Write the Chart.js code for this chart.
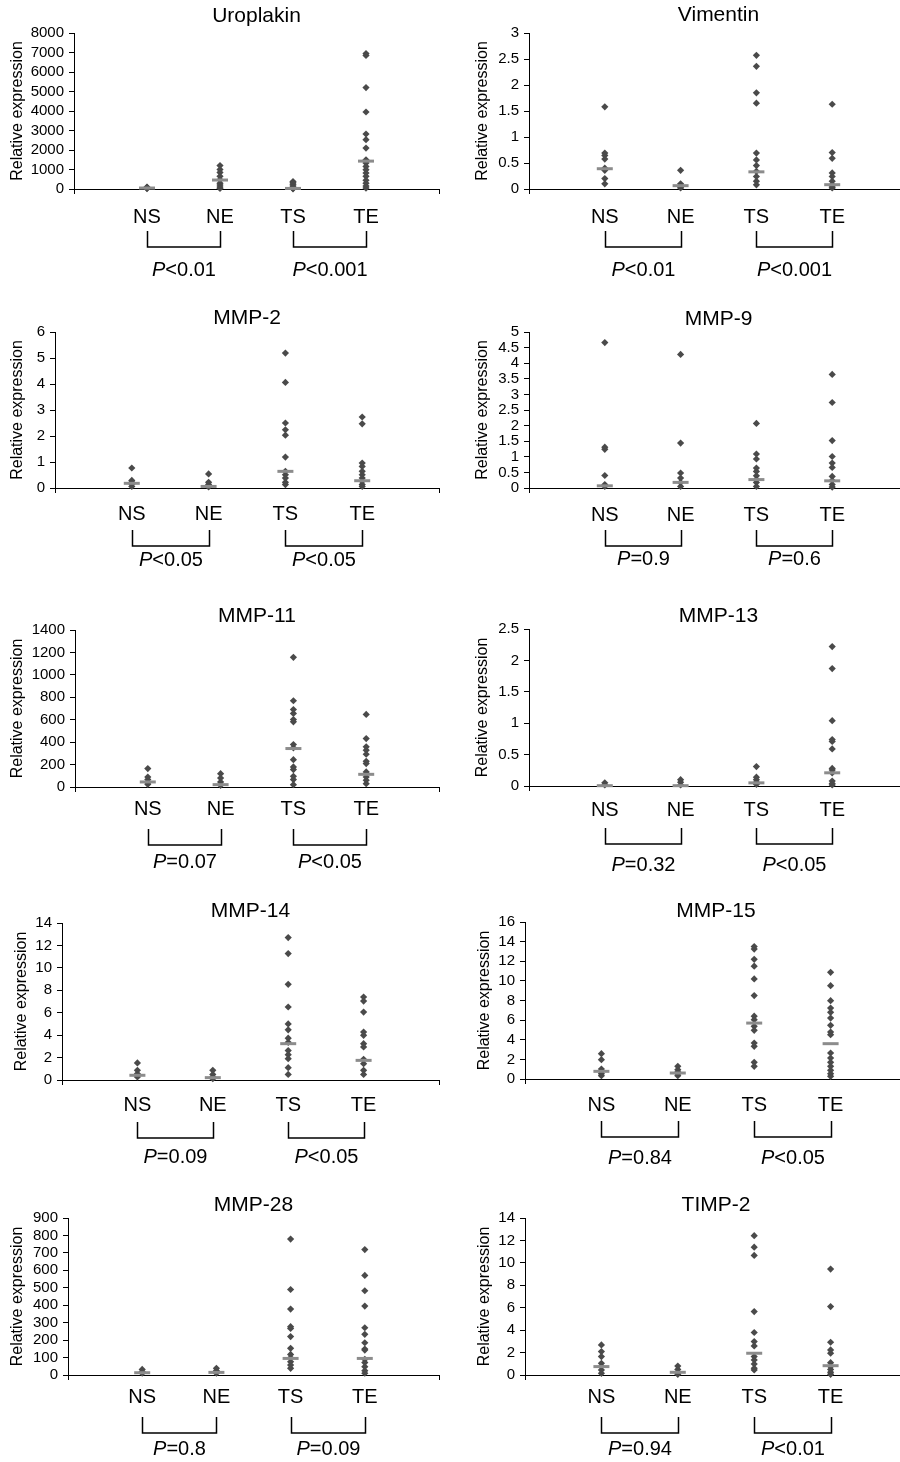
<!DOCTYPE html>
<html><head><meta charset="utf-8">
<script src="https://cdn.jsdelivr.net/npm/chart.js@4.4.0/dist/chart.umd.min.js"></script>
<style>
html,body{margin:0;padding:0;background:#fff;overflow:hidden;width:900px;height:1462px;position:relative;}
canvas{position:absolute;}
</style>
</head><body>
<script>
// ---------- DATA ----------
const categories = ['NS', 'NE', 'TS', 'TE'];
const panelNames = ['Uroplakin', 'Vimentin', 'MMP-2', 'MMP-9', 'MMP-11', 'MMP-13', 'MMP-14', 'MMP-15', 'MMP-28', 'TIMP-2'];
const yMax = [8000, 3, 6, 5, 1400, 2.5, 14, 16, 900, 14];
const yStep = [1000, 0.5, 1, 0.5, 200, 0.5, 2, 2, 100, 2];
const pLabels = [['<0.01', '<0.001'], ['<0.01', '<0.001'], ['<0.05', '<0.05'], ['=0.9', '=0.6'], ['=0.07', '<0.05'],
                 ['=0.32', '<0.05'], ['=0.09', '<0.05'], ['=0.84', '<0.05'], ['=0.8', '=0.09'], ['=0.94', '<0.01']];

// values per group: NS, NE, TS, TE
const uroplakinValues = [
  [100, 80, 60, 40, 20],
  [1200, 1000, 850, 650, 480, 300, 200, 100, 30],
  [380, 320, 250, 150, 80, 30, 10],
  [6950, 6850, 5200, 3950, 2820, 2530, 2100, 1500, 1330, 1160, 990, 820, 650, 450, 300, 150, 50]
];
const uroplakinMedians = [50, 460, 30, 1430];

const vimentinValues = [
  [1.58, 0.69, 0.645, 0.575, 0.4, 0.36, 0.2, 0.1],
  [0.36, 0.1, 0.065, 0.04, 0.02],
  [2.57, 2.36, 1.85, 1.65, 0.69, 0.56, 0.45, 0.34, 0.24, 0.15, 0.08],
  [1.63, 0.7, 0.59, 0.31, 0.24, 0.15, 0.08, 0.04, 0.02]
];
const vimentinMedians = [0.39, 0.064, 0.33, 0.083];

const mmp2Values = [
  [0.77, 0.29, 0.22, 0.15, 0.06],
  [0.54, 0.22, 0.13, 0.04],
  [5.19, 4.06, 2.5, 2.24, 2.03, 1.19, 0.64, 0.51, 0.38, 0.22, 0.13],
  [2.73, 2.47, 0.96, 0.83, 0.64, 0.51, 0.38, 0.26, 0.13, 0.06]
];
const mmp2Medians = [0.18, 0.06, 0.64, 0.28];

const mmp9Values = [
  [4.66, 1.31, 1.24, 0.4, 0.11, 0.05],
  [4.28, 1.44, 0.48, 0.32, 0.18, 0.05],
  [2.07, 1.09, 0.93, 0.64, 0.53, 0.39, 0.27, 0.18, 0.05],
  [3.64, 2.74, 1.52, 1.01, 0.8, 0.66, 0.37, 0.24, 0.11, 0.03]
];
const mmp9Medians = [0.07, 0.18, 0.27, 0.23];

const mmp11Values = [
  [164, 89, 66, 39, 24],
  [119, 80, 45, 15],
  [1156, 769, 691, 656, 602, 581, 379, 349, 244, 179, 155, 95, 66, 21],
  [647, 432, 358, 328, 292, 229, 209, 134, 89, 60, 30]
];
const mmp11Medians = [45, 21, 343, 113];

const mmp13Values = [
  [0.05, 0.016],
  [0.1, 0.06, 0.016],
  [0.31, 0.14, 0.1, 0.06, 0.027],
  [2.22, 1.87, 1.04, 0.74, 0.71, 0.59, 0.28, 0.255, 0.21, 0.08, 0.04, 0.016]
];
const mmp13Medians = [0.005, 0.005, 0.05, 0.21];

const mmp14Values = [
  [1.52, 0.86, 0.56, 0.42, 0.27],
  [0.86, 0.5, 0.27, 0.12],
  [12.7, 11.27, 8.53, 6.51, 5.0, 4.47, 3.73, 3.36, 2.62, 2.26, 1.9, 1.1, 0.5],
  [7.4, 7.04, 6.06, 4.28, 3.98, 3.24, 2.95, 1.84, 1.46, 0.86, 0.5]
];
const mmp14Medians = [0.42, 0.21, 3.24, 1.75];

const mmp15Values = [
  [2.58, 1.97, 1.02, 0.78, 0.54, 0.34],
  [1.29, 0.95, 0.71, 0.54, 0.34],
  [13.5, 13.24, 12.2, 11.5, 10.2, 8.5, 6.4, 6.05, 5.37, 4.96, 3.67, 3.33, 1.7, 1.29],
  [10.87, 9.51, 7.98, 7.23, 6.79, 6.21, 5.47, 4.79, 4.52, 2.65, 2.14, 1.7, 1.29, 0.88, 0.54, 0.27]
];
const mmp15Medians = [0.78, 0.61, 5.7, 3.6];

const mmp28Values = [
  [32, 19, 10],
  [38, 25, 10],
  [779, 490, 378, 277, 267, 220, 153, 118, 99, 76, 57, 38],
  [719, 571, 483, 395, 271, 233, 185, 149, 143, 90, 71, 48, 25, 10]
];
const mmp28Medians = [13, 15, 95, 95];

const timp2Values = [
  [2.68, 2.09, 1.64, 1.04, 0.75, 0.45, 0.15],
  [0.8, 0.5, 0.2, 0.06],
  [12.42, 11.4, 10.66, 5.66, 3.79, 2.98, 2.59, 1.64, 1.34, 0.98, 0.6, 0.45],
  [9.45, 6.1, 2.92, 2.24, 1.94, 1.1, 0.75, 0.5, 0.24, 0.06]
];
const timp2Medians = [0.75, 0.24, 1.94, 0.83];

const allValues = [uroplakinValues, vimentinValues, mmp2Values, mmp9Values, mmp11Values, mmp13Values, mmp14Values, mmp15Values, mmp28Values, timp2Values];
const allMedians = [uroplakinMedians, vimentinMedians, mmp2Medians, mmp9Medians, mmp11Medians, mmp13Medians, mmp14Medians, mmp15Medians, mmp28Medians, timp2Medians];

// ---------- LAYOUT (page pixels) ----------
const layouts = [
  {axisX: 74,  top: 33,   bottom: 189,  xEnd: 444, yTitleX: 18,  titleDy: -17, catDy: 27, pDy: 81},
  {axisX: 529, top: 33,   bottom: 189,  xEnd: 908, yTitleX: 483, titleDy: -18, catDy: 27, pDy: 81},
  {axisX: 55,  top: 332,  bottom: 488,  xEnd: 444, yTitleX: 18,  titleDy: -14, catDy: 25, pDy: 72},
  {axisX: 529, top: 332,  bottom: 488,  xEnd: 908, yTitleX: 483, titleDy: -13, catDy: 26, pDy: 71},
  {axisX: 75,  top: 630,  bottom: 787,  xEnd: 444, yTitleX: 18,  titleDy: -14, catDy: 21, pDy: 75},
  {axisX: 529, top: 629,  bottom: 786,  xEnd: 908, yTitleX: 483, titleDy: -13, catDy: 23, pDy: 79},
  {axisX: 62,  top: 923,  bottom: 1080, xEnd: 444, yTitleX: 22,  titleDy: -12, catDy: 24, pDy: 77},
  {axisX: 525, top: 922,  bottom: 1079, xEnd: 907, yTitleX: 485, titleDy: -11, catDy: 25, pDy: 79},
  {axisX: 68,  top: 1218, bottom: 1375, xEnd: 443, yTitleX: 18,  titleDy: -13, catDy: 21, pDy: 74},
  {axisX: 525, top: 1218, bottom: 1375, xEnd: 907, yTitleX: 485, titleDy: -13, catDy: 21, pDy: 74}
];

const FONT = '"Liberation Sans", Arial, Helvetica, sans-serif';
const DOT = '#4a4a4a';
const MED = '#8c8c8c';

function makePanel(i) {
  const L = layouts[i];
  const col = i % 2;
  const cl = col ? 450 : 0;
  const cw = col ? 470 : 450;
  const ct = L.top - 40;
  const ch = 292;
  const cv = document.createElement('canvas');
  cv.width = cw; cv.height = ch;
  cv.style.left = cl + 'px'; cv.style.top = ct + 'px';
  cv.style.width = cw + 'px'; cv.style.height = ch + 'px';
  document.body.appendChild(cv);

  const yw = L.axisX - cl;
  const xh = ch - (L.bottom - ct);
  const padRight = cl + cw - L.xEnd;
  const titleSize = 16;

  const points = [];
  allValues[i].forEach((arr, g) => arr.forEach(v => points.push({x: g + 1, y: v})));
  const meds = allMedians[i].map((v, g) => ({x: g + 1, y: v}));

  const annot = {
    id: 'annot' + i,
    afterDraw(chart) {
      const {ctx, chartArea, scales: {x, y}} = chart;
      ctx.save();
      ctx.fillStyle = '#000';
      ctx.textBaseline = 'middle';
      ctx.textAlign = 'center';
      ctx.font = '21px ' + FONT;
      ctx.fillText(panelNames[i], (x.getPixelForValue(0) + x.getPixelForValue(5)) / 2, chartArea.top + L.titleDy);
      const yb = y.getPixelForValue(0);
      ctx.strokeStyle = '#000';
      ctx.lineWidth = 1.5;
      [[1, 2], [3, 4]].forEach(([a, b], k) => {
        const xa = Math.round(x.getPixelForValue(a)) + 0.5, xb = Math.round(x.getPixelForValue(b)) + 0.5;
        ctx.beginPath();
        ctx.moveTo(xa, yb + 42); ctx.lineTo(xa, yb + 58); ctx.lineTo(xb, yb + 58); ctx.lineTo(xb, yb + 42);
        ctx.stroke();
        const rest = pLabels[i][k];
        ctx.font = 'italic 20px ' + FONT; const w1 = ctx.measureText('P').width;
        ctx.font = '20px ' + FONT; const w2 = ctx.measureText(rest).width;
        const start = (xa + xb) / 2 - (w1 + w2) / 2;
        ctx.textAlign = 'left';
        ctx.font = 'italic 20px ' + FONT; ctx.fillText('P', start, yb + L.pDy);
        ctx.font = '20px ' + FONT; ctx.fillText(rest, start + w1, yb + L.pDy);
      });
      ctx.restore();
    }
  };

  new Chart(cv, {
    type: 'scatter',
    data: {
      datasets: [
        {data: meds, pointStyle: 'line', pointRadius: 8, pointBorderWidth: 3, pointBorderColor: MED,
         pointBackgroundColor: MED, showLine: false, clip: false},
        {data: points, pointStyle: 'rectRot', pointRadius: 3.6, pointBorderWidth: 0,
         pointBackgroundColor: DOT, pointBorderColor: DOT, showLine: false, clip: false}
      ]
    },
    options: {
      responsive: false, animation: false, events: [],
      devicePixelRatio: 1,
      layout: {padding: {top: 40, left: 0, right: padRight, bottom: 0}},
      plugins: {legend: {display: false}, tooltip: {enabled: false}},
      scales: {
        x: {
          type: 'linear', min: 0, max: 5,
          afterBuildTicks: s => { s.ticks = [0, 1, 2, 3, 4, 5].map(v => ({value: v})); },
          afterFit: s => { s.height = xh; },
          ticks: {callback: v => categories[v - 1] || '', autoSkip: false, maxRotation: 0, minRotation: 0,
                  color: '#000', font: {family: FONT, size: 20}, padding: L.catDy - 16},
          grid: {drawOnChartArea: false, drawTicks: true, tickLength: 5,
                 color: c => (c.tick && (c.tick.value === 0 || c.tick.value === 5)) ? '#000' : 'rgba(0,0,0,0)'},
          border: {display: true, color: '#000', width: 1}
        },
        y: {
          type: 'linear', min: 0, max: yMax[i],
          afterBuildTicks: s => {
            const t = [];
            const n = Math.round(yMax[i] / yStep[i]);
            for (let k = 0; k <= n; k++) t.push({value: Math.round(k * yStep[i] * 1000) / 1000});
            s.ticks = t;
          },
          afterFit: s => { s.width = yw; },
          ticks: {callback: v => String(Math.round(v * 1000) / 1000), color: '#000', autoSkip: false,
                  font: {family: FONT, size: 15}, padding: 5},
          grid: {drawOnChartArea: false, drawTicks: true, tickLength: 5, color: '#000'},
          border: {display: true, color: '#000', width: 1},
          title: {display: true, text: 'Relative expression', color: '#000',
                  font: {family: FONT, size: titleSize}, padding: {top: L.yTitleX - cl - titleSize * 0.6, bottom: 0}}
        }
      }
    },
    plugins: [annot]
  });
}

for (let i = 0; i < 10; i++) makePanel(i);
</script>
</body></html>
